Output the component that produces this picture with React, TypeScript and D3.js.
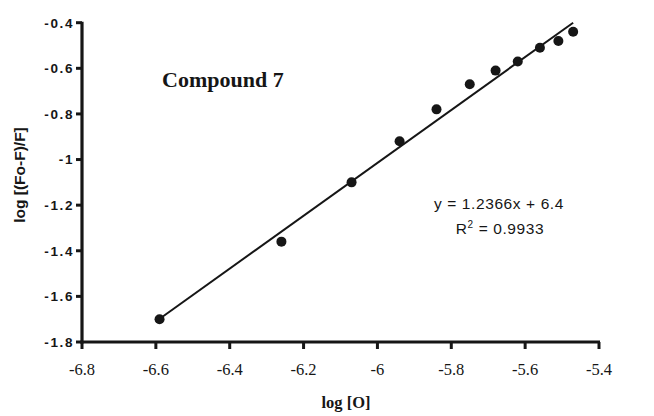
import React from "react";
import * as d3 from "d3";

const xData = [-6.59, -6.26, -6.07, -5.94, -5.84, -5.75, -5.68, -5.62, -5.56, -5.51, -5.47];
const yData = [-1.70, -1.36, -1.10, -0.92, -0.78, -0.67, -0.61, -0.57, -0.51, -0.48, -0.44];
const fitX = [-6.6, -5.47];
const fitY = [-1.71, -0.40];
const xTicks = [-6.8, -6.6, -6.4, -6.2, -6, -5.8, -5.6, -5.4];
const yTicks = [-0.4, -0.6, -0.8, -1, -1.2, -1.4, -1.6, -1.8];

const W = 654;
const H = 416;
const ink = "#161616";

export default function App() {
  const x = d3.scaleLinear().domain([-6.8, -5.4]).range([82, 599]);
  const y = d3.scaleLinear().domain([-1.8, -0.4]).range([342, 22.7]);
  const line = d3
    .line<number>()
    .x((d) => x(d))
    .y((_, i) => y(fitY[i]));
  const fmt = (v: number) => String(v);

  return (
    <svg
      width={W}
      height={H}
      style={{ position: "absolute", left: 0, top: 0, background: "#fff" }}
    >
      <rect x={0} y={0} width={W} height={H} fill="#fff" />
      {/* fit line */}
      <path d={line(fitX) || ""} stroke={ink} strokeWidth={2} fill="none" />
      {/* points */}
      {xData.map((v, i) => (
        <circle key={i} cx={x(v)} cy={y(yData[i])} r={5} fill={ink} />
      ))}
      {/* axes */}
      <line x1={x(-6.8)} y1={y(-0.4) - 1} x2={x(-6.8)} y2={y(-1.8) + 1.5} stroke={ink} strokeWidth={3.2} />
      <line x1={x(-6.8) - 1.5} y1={y(-1.8)} x2={x(-5.4) + 1} y2={y(-1.8)} stroke={ink} strokeWidth={3.2} />
      {yTicks.map((t) => (
        <g key={"y" + t}>
          <line x1={x(-6.8) - 6} x2={x(-6.8)} y1={y(t)} y2={y(t)} stroke={ink} strokeWidth={3} />
          <text
            x={74}
            y={y(t) + 4.8}
            textAnchor="end"
            fontFamily="Liberation Sans, Arial, sans-serif"
            fontWeight="bold"
            fontSize={13.5}
            letterSpacing={1.6}
            fill={ink}
          >
            {fmt(t)}
          </text>
        </g>
      ))}
      {xTicks.map((t) => (
        <g key={"x" + t}>
          <line x1={x(t)} x2={x(t)} y1={y(-1.8)} y2={y(-1.8) + 7} stroke={ink} strokeWidth={3} />
          <text
            x={x(t)}
            y={375}
            textAnchor="middle"
            fontFamily="Liberation Serif, Times New Roman, serif"
            fontSize={16.5}
            fill={ink}
          >
            {fmt(t)}
          </text>
        </g>
      ))}
      {/* axis titles */}
      <text
        x={346}
        y={408}
        textAnchor="middle"
        fontFamily="Liberation Serif, Times New Roman, serif"
        fontWeight="bold"
        fontSize={16.5}
        fill={ink}
      >
        log [O]
      </text>
      <text
        transform={`translate(25,175) rotate(-90)`}
        textAnchor="middle"
        fontFamily="Liberation Sans, Arial, sans-serif"
        fontWeight="bold"
        fontSize={15.5}
        fill={ink}
      >
        log [(Fo-F)/F]
      </text>
      {/* annotations */}
      <text
        x={162}
        y={87}
        fontFamily="Liberation Serif, Times New Roman, serif"
        fontWeight="bold"
        fontSize={22}
        fill={ink}
      >
        Compound 7
      </text>
      <text
        x={499}
        y={209}
        textAnchor="middle"
        fontFamily="Liberation Sans, Arial, sans-serif"
        fontSize={15.5}
        letterSpacing={0.6}
        fill={ink}
      >
        y = 1.2366x + 6.4
      </text>
      <text
        x={500}
        y={234}
        textAnchor="middle"
        fontFamily="Liberation Sans, Arial, sans-serif"
        fontSize={15.5}
        letterSpacing={0.6}
        fill={ink}
      >
        R<tspan dy={-6} fontSize={10}>2</tspan>
        <tspan dy={6}> = 0.9933</tspan>
      </text>
    </svg>
  );
}
